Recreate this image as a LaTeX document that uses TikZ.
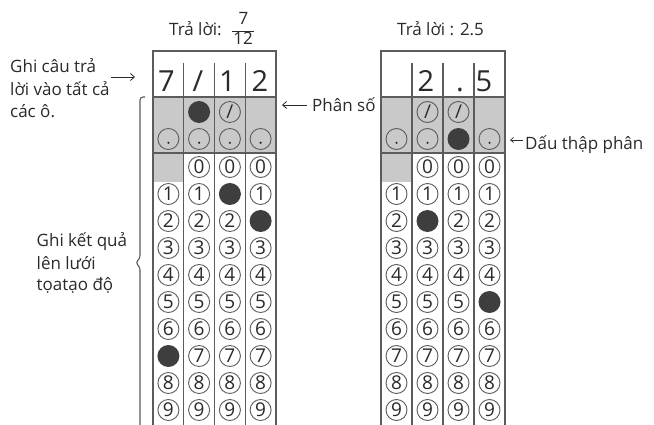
\documentclass[tikz,border=0pt]{standalone}
\usepackage{fontspec}
\setmainfont{Open Sans}
\usetikzlibrary{arrows.meta}
\definecolor{ink}{HTML}{2A2A2A}
\definecolor{linec}{HTML}{5C5C5C}
\definecolor{greyfill}{HTML}{C9C9C9}
\definecolor{blob}{HTML}{3E3E3E}
\tikzset{
  lbl/.style={font=\fontsize{17}{20}\selectfont, text=ink, inner sep=0pt, anchor=base west},
  big/.style={font=\fontsize{29}{29}\selectfont, text=ink, inner sep=0pt, anchor=base},
  bubble/.style={circle, draw=linec, line width=0.9pt, minimum size=21pt, inner sep=0pt,
                 font=\fontsize{19}{19}\selectfont, text=ink},
  blobc/.style={circle, fill=blob, minimum size=22pt, inner sep=0pt},
  frame/.style={draw=linec, line width=1.1pt},
  ptr/.style={draw=ink, line width=0.8pt, -{Straight Barb[length=4pt,width=7pt]}},
}
\begin{document}
\begin{tikzpicture}[x=1pt,y=-1pt]
\useasboundingbox[fill=white] (0,0) rectangle (654,425);

% ---------- left grid (7/12) ----------
\fill[greyfill] (153,97) rectangle (276,153);
\fill[greyfill] (153,153) rectangle (183.75,181.7);
\draw[frame] (153,425) -- (153,51) -- (276,51) -- (276,425);
\draw[frame] (153,97) -- (276,97);
\draw[frame] (153,153) -- (276,153);
\foreach \x in {183.75,214.5,245.25}{\draw[frame] (\x,63) -- (\x,425);}
\node[big] (lh1) at (166.5,92) {7};
\node[big] (lh2) at (198,92) {/};
\node[big] (lh3) at (227.5,92) {1};
\node[big] (lh4) at (260,92) {2};
% slash row
\node[blobc] (ls2) at (199.1,112) {};
\node[bubble] (ls3) at (229.9,112) {/};
% dot row
\foreach \c/\cx in {1/168.4,2/199.1,3/229.9,4/260.6}{
  \node[bubble] (ld\c) at (\cx,139) {};
  \fill[ink] ([yshift=-3.8pt]ld\c.center) circle (1.2);
}
% digit rows
\foreach \c/\cx/\f/\st in {1/168.4/7/1,2/199.1/-1/0,3/229.9/1/0,4/260.6/2/0}{
  \foreach \d in {\st,...,9}{
    \pgfmathsetmacro\cy{167+27*\d}
    \ifnum\d=\f
      \node[blobc] (L\c-\d) at (\cx,\cy) {};
    \else
      \node[bubble] (L\c-\d) at (\cx,\cy) {\d};
    \fi
  }
}

% ---------- right grid (2.5) ----------
\fill[greyfill] (381,97) rectangle (505,153);
\fill[greyfill] (381,153) rectangle (412,181.7);
\draw[frame] (381,425) -- (381,51) -- (505,51) -- (505,425);
\draw[frame] (381,97) -- (505,97);
\draw[frame] (381,153) -- (505,153);
\foreach \x in {412,443,474}{\draw[frame] (\x,63) -- (\x,425);}
\node[big] (rh2) at (426,92) {2};
\node[big] (rh3) at (460,92) {.};
\node[big] (rh4) at (484,92) {5};
% slash row
\node[bubble] (rs2) at (427.5,112) {/};
\node[bubble] (rs3) at (458.5,112) {/};
% dot row
\foreach \c/\cx in {1/396.5,2/427.5,4/489.5}{
  \node[bubble] (rd\c) at (\cx,139) {};
  \fill[ink] ([yshift=-3.8pt]rd\c.center) circle (1.2);
}
\node[blobc] (rd3) at (458.5,139) {};
% digit rows
\foreach \c/\cx/\f/\st in {1/396.5/-1/1,2/427.5/2/0,3/458.5/-1/0,4/489.5/5/0}{
  \foreach \d in {\st,...,9}{
    \pgfmathsetmacro\cy{167+27*\d}
    \ifnum\d=\f
      \node[blobc] (R\c-\d) at (\cx,\cy) {};
    \else
      \node[bubble] (R\c-\d) at (\cx,\cy) {\d};
    \fi
  }
}

% ---------- titles ----------
\node[lbl] (t1) at (169,36) {Trả lời:};
\node[font=\fontsize{17}{17}\selectfont, text=ink, inner sep=0pt, anchor=base] (fn) at (243.5,25) {7};
\node[font=\fontsize{17}{17}\selectfont, text=ink, inner sep=0pt, anchor=base] (fd) at (243,45) {12};
\draw[ink, line width=0.8pt] ([xshift=-1pt]fd.west |- 0,31.5) -- ([xshift=1pt]fd.east |- 0,31.5);
\node[lbl] (t2) at (397,36) {Trả lời : 2.5};

% ---------- side labels ----------
\node[lbl] (a1) at (10,73) {Ghi câu trả};
\node[lbl] (a2) at (10,95.5) {lời vào tất cả};
\node[lbl] (a3) at (10,118) {các ô.};
\coordinate (a1s) at (111,77);
\coordinate (a1e) at (135,77);
\draw[ptr] (a1s) -- (a1e);

\node[lbl] (b1) at (36.5,246.5) {Ghi kết quả};
\node[lbl] (b2) at (36.5,269.5) {lên lưới};
\node[lbl] (b3) at (36.5,290.5) {tọatạo độ};
\draw[frame, rounded corners=3pt] (145,97) -- (140,97) -- (140,258.5) -- (135.5,262.7) -- (140,267) -- (140,425);

\node[lbl] (p1) at (312,111.5) {Phân số};
\coordinate (p1s) at (307,105);
\coordinate (p1e) at (282,105);
\draw[ptr] (p1s) -- (p1e);

\node[lbl] (q1) at (525,150) {Dấu thập phân};
\coordinate (q1s) at (523,140);
\coordinate (q1e) at (510,140);
\draw[ink, line width=0.7pt, -{Straight Barb[length=3pt,width=5pt]}] (q1s) -- (q1e);
\end{tikzpicture}
\end{document}
